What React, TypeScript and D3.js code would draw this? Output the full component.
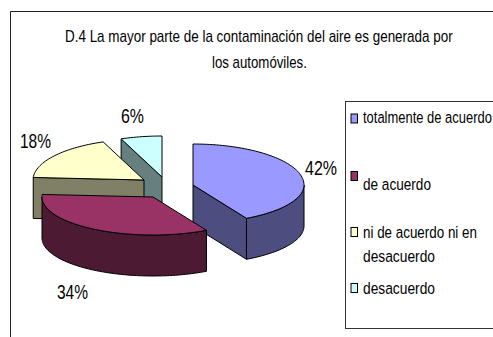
import React from "react";
import * as d3 from "d3";

const categories = ["totalmente de acuerdo", "de acuerdo", "ni de acuerdo ni en desacuerdo", "desacuerdo"];
const values = [42, 34, 18, 6];
const percentLabels = ["42%", "34%", "18%", "6%"];
const topColors = ["#9999FF", "#993366", "#FFFFCC", "#CCFFFF"];
const sideColors = ["#4D4D80", "#4D1A33", "#808066", "#668080"];
const titleLines = ["D.4 La mayor parte de la contaminación del aire es generada por", "los automóviles."];

const W = 493, H = 337;
const RX = 111, RY_BACK = 41, RY_FRONT = 38, DEPTH = 41;
const centers: [number, number][] = [[193, 185], [153, 197], [144, 180], [162, 177]];
const labelPos: [number, number, number][] = [[305, 175, 32], [57, 299, 31], [20, 148, 31], [121, 123, 23]];

const FONT = "'Liberation Sans', Arial, sans-serif";

const pieGen = d3.pie<number>().sort(null).value((d) => d);
const arcs = pieGen(values);
const line = d3.line<[number, number]>().x((d) => d[0]).y((d) => d[1]);

function pt(c: [number, number], a: number, dy = 0): [number, number] {
  const cos = Math.cos(a);
  return [c[0] + RX * Math.sin(a), c[1] - (cos > 0 ? RY_BACK : RY_FRONT) * cos + dy];
}
function arcPts(c: [number, number], a0: number, a1: number, dy = 0): [number, number][] {
  const n = Math.max(2, Math.ceil(Math.abs(a1 - a0) / 0.03));
  return d3.range(n + 1).map((i) => pt(c, a0 + ((a1 - a0) * i) / n, dy));
}
function topFace(i: number) {
  const c = centers[i];
  return line([c, ...arcPts(c, arcs[i].startAngle, arcs[i].endAngle)])! + "Z";
}
// outer wall: the part of the rim on the front half of the ellipse
function wall(i: number) {
  const c = centers[i];
  const a0 = Math.max(arcs[i].startAngle, Math.PI / 2);
  const a1 = Math.min(arcs[i].endAngle, (3 * Math.PI) / 2);
  if (a1 <= a0) return null;
  return line([...arcPts(c, a0, a1), ...arcPts(c, a1, a0, DEPTH)])! + "Z";
}
// flat cut wall along one radius
function radial(i: number, a: number) {
  const c = centers[i];
  const p = pt(c, a);
  const pts: [number, number][] = [c, p, [p[0], p[1] + DEPTH], [c[0], c[1] + DEPTH]];
  return line(pts)! + "Z";
}

const legendRows = [
  { color: 0, marker: 118.5, lines: [{ text: "totalmente de acuerdo", y: 123, len: 129 }] },
  { color: 1, marker: 176, lines: [{ text: "de acuerdo", y: 190, len: 68 }] },
  { color: 2, marker: 232, lines: [{ text: "ni de acuerdo ni en", y: 238, len: 114 }, { text: "desacuerdo", y: 262, len: 72 }] },
  { color: 3, marker: 288, lines: [{ text: "desacuerdo", y: 294, len: 72 }] },
];

const paint = { stroke: "#000", strokeWidth: 1, strokeLinejoin: "round" as const };

const ctx = document.createElement("canvas").getContext("2d")!;
// Horizontally condensed text: starts at x and is squeezed to the width len.
function Squeezed({ text, x, y, len, size }: { text: string; x: number; y: number; len: number; size: number }) {
  ctx.font = `${size}px ${FONT}`;
  const sx = len / ctx.measureText(text).width;
  return (
    <text transform={`translate(${x} ${y}) scale(${sx} 1)`} fontSize={size} fill="#000">{text}</text>
  );
}

export default function App() {
  const order = [3, 2, 0, 1];
  return (
    <svg width={W} height={H} style={{ position: "absolute", left: 0, top: 0, background: "#fff" }} fontFamily={FONT}>
      <path d={`M10.5 ${H}V11.5H${W}`} fill="none" stroke="#222" strokeWidth={1} />
      <Squeezed text={titleLines[0]} x={65} y={42} len={388} size={16} />
      <Squeezed text={titleLines[1]} x={212} y={68} len={95} size={16} />
      {order.map((i) => {
        const w = wall(i);
        return (
          <g key={i}>
            {i === 3 && <path d={radial(3, arcs[3].startAngle)} fill={sideColors[3]} {...paint} />}
            {i === 2 && <path d={radial(2, arcs[2].startAngle)} fill={sideColors[2]} {...paint} />}
            {i === 0 && <path d={radial(0, arcs[0].endAngle)} fill={sideColors[0]} {...paint} />}
            {w && <path d={w} fill={sideColors[i]} {...paint} />}
            <path d={topFace(i)} fill={topColors[i]} {...paint} />
          </g>
        );
      })}
      {percentLabels.map((l, i) => (
        <Squeezed key={l} text={l} x={labelPos[i][0]} y={labelPos[i][1]} len={labelPos[i][2]} size={20} />
      ))}
      <rect x={345.5} y={101.5} width={160} height={227} fill="#fff" stroke="#333" strokeWidth={1} />
      {legendRows.map((r) => (
        <g key={r.color}>
          <rect x={351} y={r.marker - 4.5} width={6.5} height={9} fill={topColors[r.color]} stroke="#000" strokeWidth={1} />
          {r.lines.map((t) => (
            <Squeezed key={t.y} text={t.text} x={363} y={t.y} len={t.len} size={17} />
          ))}
        </g>
      ))}
    </svg>
  );
}
